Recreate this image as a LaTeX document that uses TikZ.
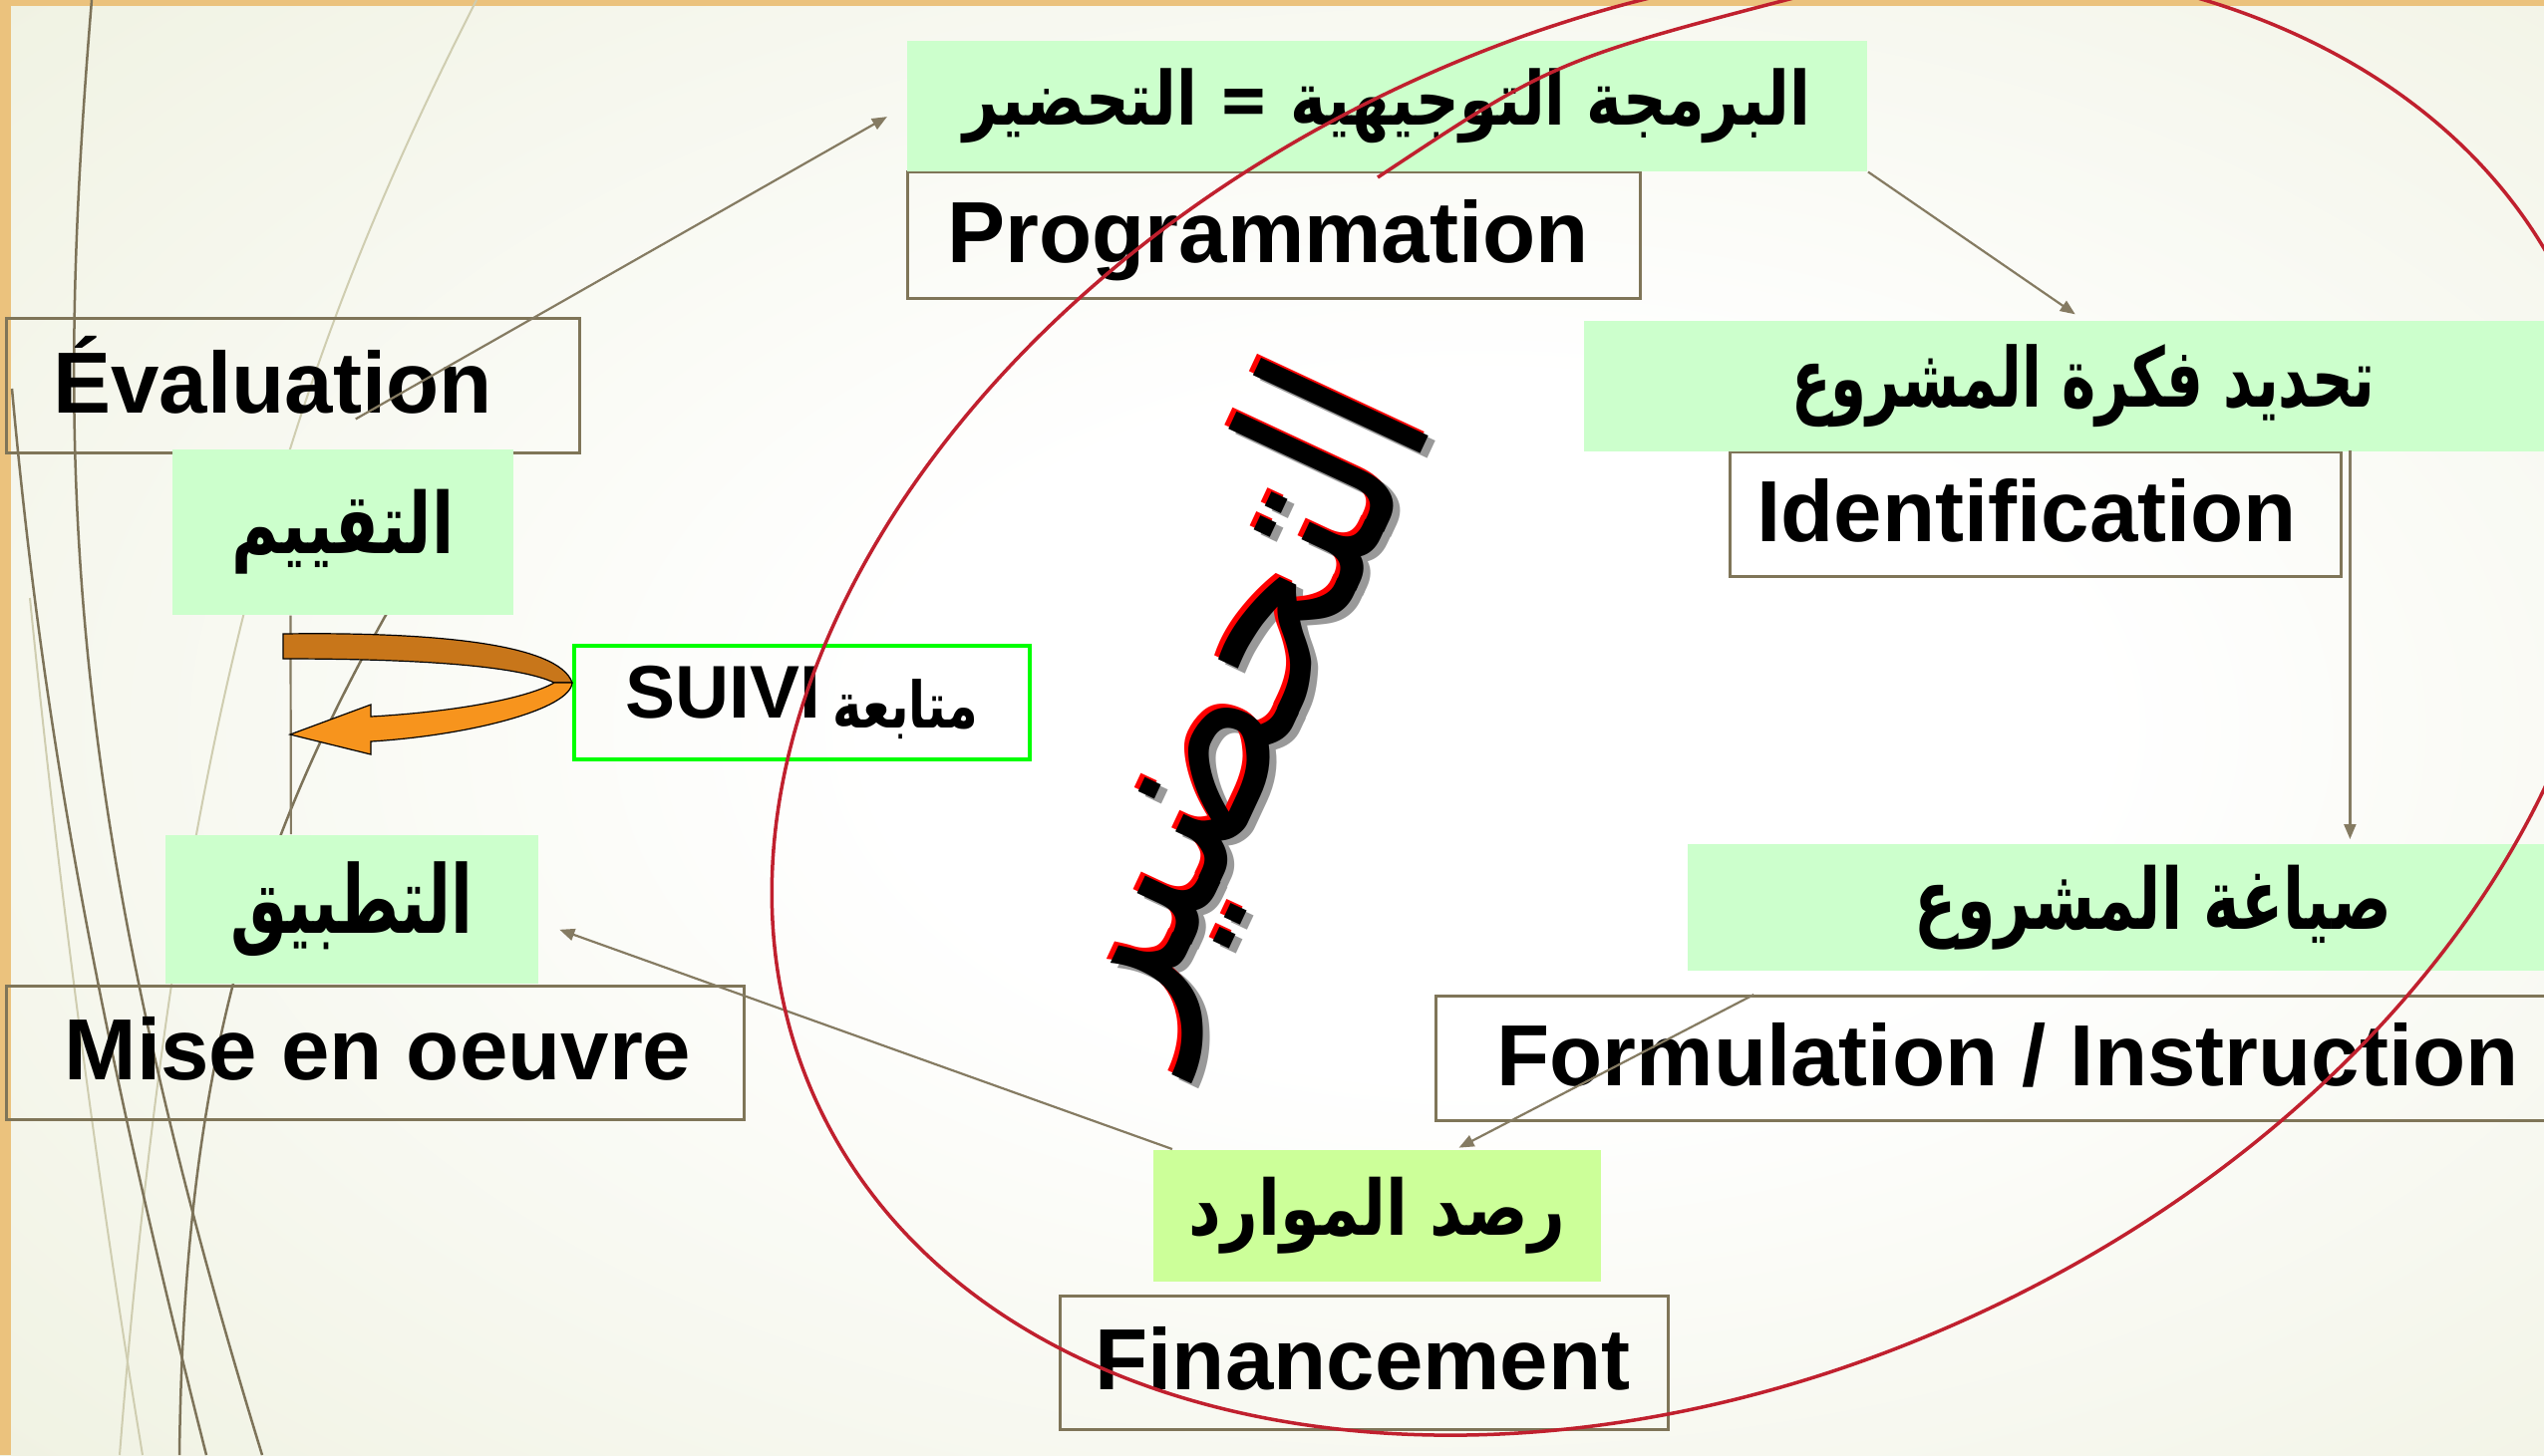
\documentclass[tikz,border=0pt]{standalone}
\usepackage{graphicx}
\usepackage{fontspec}
\setmainfont{Liberation Sans}
\newfontfamily\arabicfont[Script=Arabic]{DejaVu Sans}
\TeXXeTstate=1
\usepackage{tikz}
\usetikzlibrary{arrows.meta}
\definecolor{my_olive}{HTML}{7F7558}
\definecolor{my_connector}{HTML}{857B62}
\definecolor{my_band}{HTML}{CCFFCC}
\definecolor{my_bandlime}{HTML}{CCFF99}
\definecolor{my_crimson}{HTML}{C0202E}
\definecolor{my_gold}{HTML}{EBC27D}
\definecolor{my_bgedge}{HTML}{E1E5C6}
\definecolor{my_darkorange}{HTML}{C8761A}
\definecolor{my_orange}{HTML}{F7941D}
\definecolor{my_suivigreen}{HTML}{00FF00}
\definecolor{my_wisp}{HTML}{7D7359}
\definecolor{my_wisplight}{HTML}{CFCDB0}
\pgfdeclareradialshading{bgglow}{\pgfpoint{5bp}{0bp}}{color(0bp)=(white); color(12bp)=(white); color(40bp)=(my_bgedge!55!white); color(62bp)=(my_bgedge); color(80bp)=(my_bgedge)}
\newcommand{\stagefont}{\fontsize{24.75}{29}\selectfont\bfseries}
\newcommand{\arlabel}[3]{\resizebox*{#1}{#2}{\arabicfont\bfseries #3}}
\newcommand{\stagetext}[2]{\makebox[#1][l]{#2}}

\begin{document}
\begin{tikzpicture}[
    x=0.01cm, y=-0.01cm,
    stagebox/.style={draw=my_olive, line width=0.03cm, rectangle, inner ysep=0pt,
        font=\stagefont, text height=0.54cm, text depth=0pt, anchor=north west},
    arband/.style={fill=my_band, rectangle, inner sep=0pt, anchor=north west},
    connector/.style={my_connector, line width=0.022cm, -{Triangle[length=0.15cm, width=0.12cm]}},
    wisp/.style={my_wisp, line width=0.025cm},
    wisplight/.style={my_wisplight, line width=0.02cm}
]
\useasboundingbox (0,0) rectangle (2552,1460);
\clip (0,0) rectangle (2552,1460);

% ---------------------------------------------------------------
%  Slide in pixels (2552 x 1460), y running downwards.
%  Cycle: Programmation -> Identification -> Formulation
%         -> Financement -> Mise en oeuvre -> Evaluation
% ---------------------------------------------------------------

% ---- Background and template border ----
\shade[shading=bgglow] (0,0) rectangle (2552,1460);
\fill[my_gold] (0,0) rectangle (2552,6);
\fill[my_gold] (0,0) rectangle (11,1460);

% ---- Template wisps on the left ----
\draw[wisplight] (478,0) .. controls (300,350) and (180,700) .. (120,1460);
\draw[wisplight] (30,600) .. controls (60,900) and (100,1200) .. (143,1460);
\draw[wisp] (92,0) .. controls (55,450) and (60,800) .. (263,1460);
\draw[wisp] (12,390) .. controls (40,700) and (90,1000) .. (207,1460);
\draw[wisp] (420,560) .. controls (260,830) and (185,1050) .. (180,1460);

% ---- Stage boxes (French) ----
\node[stagebox, inner xsep=0.47cm, minimum height=1.35cm]
    (evalbox) at (5,318) {\stagetext{4.81cm}{Évaluation}};
\node[stagebox, inner xsep=0.40cm, minimum height=1.27cm]
    (progbox) at (909,171) {\stagetext{6.55cm}{Programmation}};
\node[stagebox, inner xsep=0.27cm, minimum height=1.25cm]
    (idbox) at (1734,452) {\stagetext{5.59cm}{Identification}};
\node[stagebox, inner xsep=0.61cm, minimum height=1.25cm]
    (formbox) at (1439,998) {\stagetext{10.70cm}{Formulation / Instruction}};
\node[stagebox, inner xsep=0.35cm, minimum height=1.34cm]
    (finbox) at (1062,1299) {\stagetext{5.40cm}{Financement}};
\node[stagebox, inner xsep=0.58cm, minimum height=1.34cm]
    (misebox) at (5,988) {\stagetext{6.24cm}{Mise en oeuvre}};

% ---- Arabic bands ----
\node[arband, minimum width=9.63cm, minimum height=1.31cm] (progar) at (909,40)
    {\arlabel{8.49cm}{0.75cm}{\beginR البرمجة التوجيهية = التحضير\endR}};
\node[arband, minimum width=10.02cm, minimum height=1.31cm] (idar) at (1588,321)
    {\arlabel{5.85cm}{0.83cm}{\beginR تحديد فكرة المشروع\endR}};
\node[arband, minimum width=9.34cm, minimum height=1.27cm] (formar) at (1692,846)
    {\arlabel{4.78cm}{0.85cm}{\beginR صياغة المشروع\endR}};
\node[arband, fill=my_bandlime, minimum width=4.49cm, minimum height=1.32cm] (finar) at (1156,1153)
    {\arlabel{3.77cm}{0.77cm}{\beginR رصد الموارد\endR}};
\node[arband, minimum width=3.42cm, minimum height=1.66cm] (evalar) at (172,450)
    {\arlabel{2.23cm}{0.85cm}{\beginR التقييم\endR}};
\node[arband, minimum width=3.74cm, minimum height=1.49cm] (misear) at (165,837)
    {\arlabel{2.43cm}{0.95cm}{\beginR التطبيق\endR}};

% ---- Connectors ----
\coordinate (idtap) at ([xshift=0.07cm]idbox.north east);
\draw[connector, shorten <=0.72cm, shorten >=0.22cm] (evalbox.south) -- (progar.west);
\draw[connector, shorten >=0.10cm] (progar.south east) -- (idar.north);
\draw[connector, shorten >=0.04cm] (idtap) -- (idtap |- formar.north);
\draw[connector, shorten >=0.03cm] (formbox.167) -- (finar.40);
\draw[connector, shorten >=0.22cm] (finar.162) -- (misear.-4);
\draw[my_connector, line width=0.022cm] (evalar.238) -- (misear.129);

% ---- Follow-up loop ----
\node[draw=my_suivigreen, line width=0.035cm, minimum width=4.57cm, minimum height=1.14cm,
      anchor=north west, inner sep=0pt] (suivi) at (574,646)
    {{\fontsize{21.3}{25}\selectfont\bfseries SUIVI}\hspace{0.12cm}\raisebox{-0.1cm}{\arlabel{1.46cm}{0.6cm}{\beginR متابعة\endR}}};
\filldraw[fill=my_darkorange, draw=black, line width=0.012cm]
    (284,636) .. controls (430,634) and (560,645) .. (574,685)
    -- (556,685) .. controls (520,668) and (420,661) .. (284,661) -- cycle;
\filldraw[fill=my_orange, draw=black, line width=0.012cm]
    (574,685) .. controls (572,712) and (470,738) .. (372,744)
    -- (372,757) -- (291,737) -- (372,707) -- (372,719)
    .. controls (460,714) and (530,700) .. (556,685) -- cycle;

% ---- Rotated title ----
\node[rotate=65, text=black!40, inner sep=0pt] (titleshadow) at (1244,715)
    {\resizebox{7.0cm}{1.85cm}{\arabicfont\beginR التحضير\endR}};
\node[rotate=65, text=red, inner sep=0pt] (titlered) at (1233,706)
    {\resizebox{7.0cm}{1.85cm}{\arabicfont\beginR التحضير\endR}};
\node[rotate=65, text=black, inner sep=0pt] (title) at (1237,710)
    {\resizebox{7.0cm}{1.85cm}{\arabicfont\beginR التحضير\endR}};

% ---- Hand-drawn ring ----
\draw[my_crimson, line width=0.035cm, rotate around={24.8:(1698,701)}]
    (1698,701) ellipse [x radius=9.67cm, y radius=6.80cm];
\draw[my_crimson, line width=0.035cm] (1382,178) .. controls (1560,60) .. (1830,-10);

\end{tikzpicture}
\end{document}
